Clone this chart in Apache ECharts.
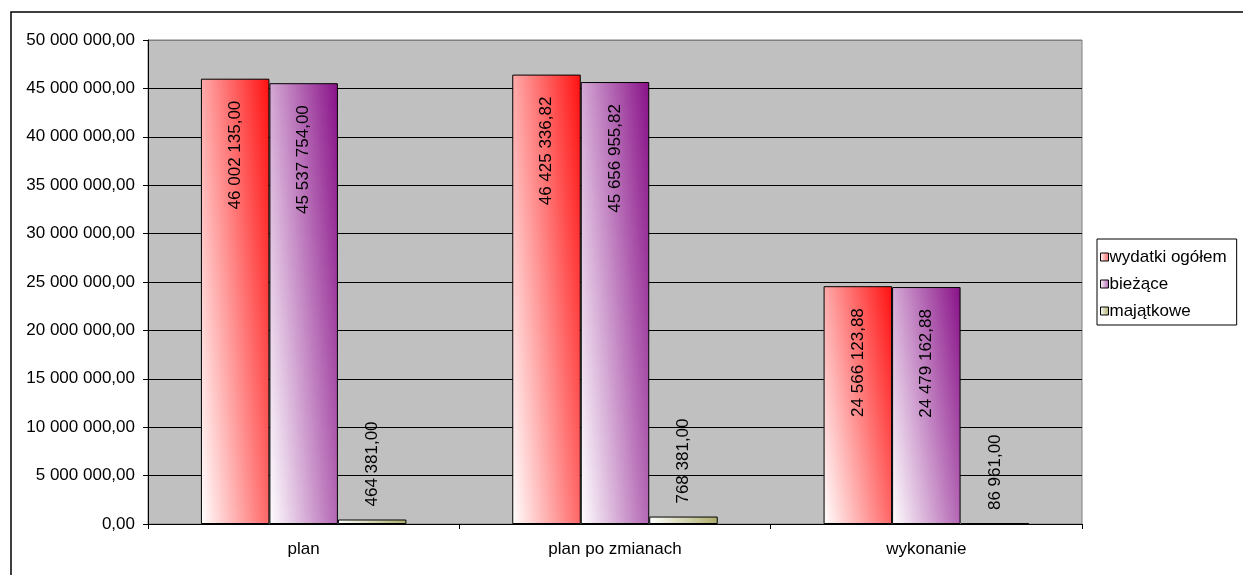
<!DOCTYPE html>
<html>
<head>
<meta charset="utf-8">
<script src="https://cdn.jsdelivr.net/npm/echarts@6/dist/echarts.min.js"></script>
<style>
html,body{margin:0;padding:0;background:#fff;}
#c{width:1243px;height:575px;}
</style>
</head>
<body>
<div id="c"></div>
<script>
var categories = ['plan', 'plan po zmianach', 'wykonanie'];
var seriesNames = ['wydatki ogółem', 'bieżące', 'majątkowe'];
var wydatkiOgolem = [46002135.00, 46425336.82, 24566123.88];
var biezace = [45537754.00, 45656955.82, 24479162.88];
var majatkowe = [464381.00, 768381.00, 86961.00];
var yTicks = [0, 5000000, 10000000, 15000000, 20000000, 25000000, 30000000, 35000000, 40000000, 45000000, 50000000];

function fmt(v) {
  var s = Number(v).toFixed(2).split('.');
  var i = s[0].replace(/\B(?=(\d{3})+(?!\d))/g, ' ');
  return i + ',' + s[1];
}
var FONT = 'Liberation Sans, Arial, sans-serif';
var endColors = ['#ff0000', '#800080', '#7a7a10'];

// diagonal gradient (white at bottom-left, colour toward top-right),
// mostly horizontal like the original spreadsheet fill
function gradFor(v, c) {
  var w = 69, h = Math.max(v / 50000000 * 484, 200);
  var a = 0.6, b = 0.33;
  var gx = a / w, gy = b / h;
  var k = 1 / (gx * gx + gy * gy);
  var dx = k * gx / w, dy = -k * gy / h;
  return new echarts.graphic.LinearGradient(0, 1, dx, 1 + dy, [
    {offset: 0, color: '#ffffff'},
    {offset: 1, color: c}
  ]);
}

function buildData(vals, ci) {
  return vals.map(function (v) {
    var item = {value: v, itemStyle: {color: gradFor(v, endColors[ci])}};
    if (v < 5000000) {
      item.label = {position: 'top', distance: 13, align: 'left', verticalAlign: 'middle'};
    } else {
      item.label = {position: 'insideTop', distance: 22, align: 'right', verticalAlign: 'middle'};
    }
    return item;
  });
}

var allVals = [wydatkiOgolem, biezace, majatkowe];
var series = allVals.map(function (vals, i) {
  return {
    name: seriesNames[i],
    type: 'bar',
    barGap: '0%',
    barCategoryGap: '34%',
    data: buildData(vals, i),
    itemStyle: {color: gradFor(50000000, endColors[i]), borderColor: '#000', borderWidth: 1},
    label: {
      show: true,
      rotate: 90,
      color: '#000',
      fontFamily: FONT,
      fontSize: 17,
      formatter: function (p) { return fmt(p.value); }
    },
    emphasis: {disabled: true},
    animation: false
  };
});

var splitColors = yTicks.map(function (t, i) { return i === yTicks.length - 1 ? '#808080' : '#000'; });

var chart = echarts.init(document.getElementById('c'), null, {renderer: 'canvas'});
chart.setOption({
  animation: false,
  backgroundColor: '#fff',
  graphic: [{
    type: 'rect',
    shape: {x: 11, y: 12, width: 1240, height: 570},
    style: {fill: 'none', stroke: '#000', lineWidth: 1.5},
    silent: true, z: -1
  }],
  grid: {
    left: 148, top: 40, right: 161, bottom: 51,
    show: true, backgroundColor: '#c0c0c0', borderColor: '#808080', borderWidth: 1
  },
  legend: {
    orient: 'vertical',
    left: 1097, top: 239,
    padding: [9, 10, 5, 3],
    itemWidth: 8, itemHeight: 8, itemGap: 9,
    borderColor: '#000', borderWidth: 1,
    icon: 'rect',
    itemStyle: {borderColor: '#000', borderWidth: 1},
    textStyle: {fontFamily: FONT, fontSize: 17, color: '#000', padding: [0, 0, 0, -4], lineHeight: 18},
    data: seriesNames
  },
  xAxis: {
    type: 'category',
    data: categories,
    axisLine: {lineStyle: {color: '#000', width: 1}},
    axisTick: {show: true, length: 5, lineStyle: {color: '#000'}},
    axisLabel: {fontFamily: FONT, fontSize: 17, color: '#000', margin: 17}
  },
  yAxis: {
    type: 'value',
    min: 0, max: 50000000, interval: 5000000,
    axisLine: {show: true, lineStyle: {color: '#000', width: 1}},
    axisTick: {show: true, length: 5, lineStyle: {color: '#000'}},
    axisLabel: {fontFamily: FONT, fontSize: 17, color: '#000', margin: 13, formatter: function (v) { return fmt(v); }},
    splitLine: {show: true, lineStyle: {color: splitColors, width: 1}}
  },
  series: series
});
</script>
</body>
</html>
